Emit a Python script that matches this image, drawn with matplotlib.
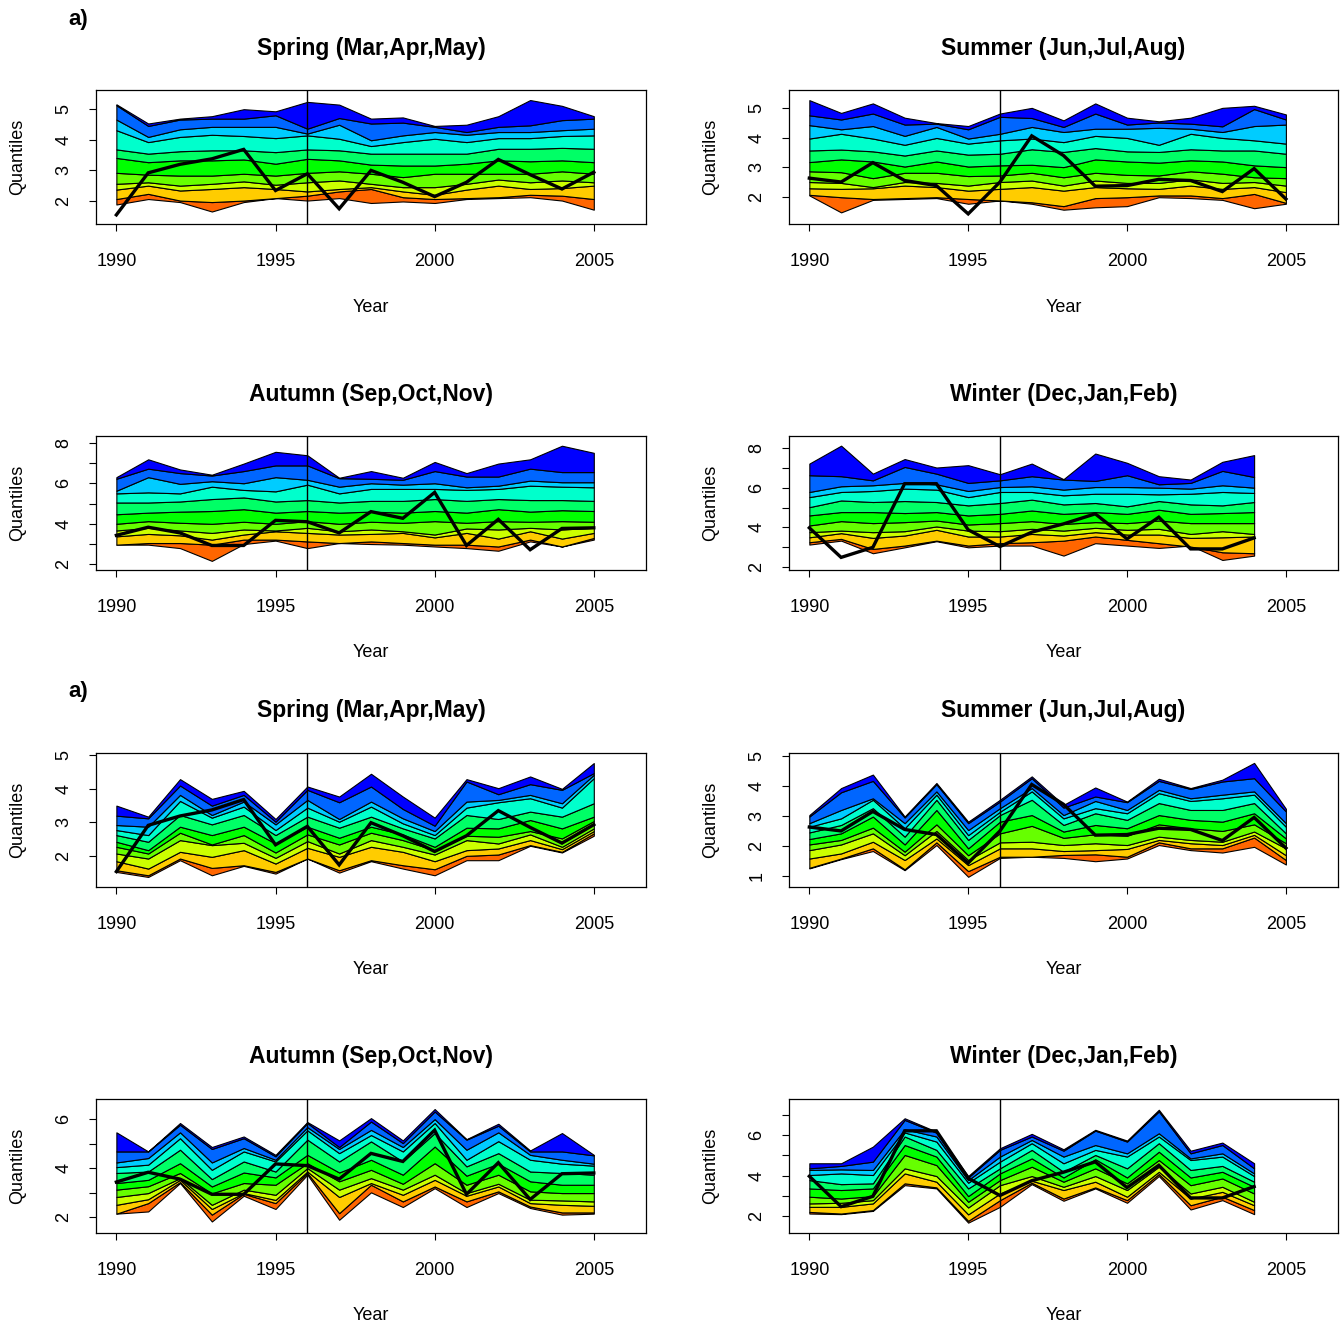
import matplotlib
matplotlib.use("Agg")
import matplotlib.pyplot as plt

plt.rcParams["font.family"] = ["Liberation Sans", "DejaVu Sans"]

years = list(range(1990, 2006))
years_w = list(range(1990, 2005))

# band colours, lowest quantile band first
band_colors = ["#FF6600", "#FFCC00", "#CCFF00", "#66FF00", "#00FF00",
               "#00FF66", "#00FFCC", "#00CCFF", "#0066FF", "#0000FF"]

# observed series per season
obs_spring = [1.53, 2.91, 3.19, 3.37, 3.68, 2.33, 2.88, 1.73, 2.99, 2.60, 2.13, 2.60, 3.35, 2.85, 2.38, 2.93]
obs_summer = [2.64, 2.51, 3.16, 2.56, 2.39, 1.44, 2.51, 4.06, 3.40, 2.37, 2.39, 2.60, 2.56, 2.19, 2.96, 1.94]
obs_autumn = [3.43, 3.83, 3.55, 2.93, 2.93, 4.17, 4.10, 3.55, 4.60, 4.27, 5.55, 2.93, 4.22, 2.72, 3.77, 3.80]
obs_winter = [3.97, 2.47, 2.98, 6.21, 6.21, 3.87, 3.02, 3.75, 4.17, 4.68, 3.41, 4.51, 2.90, 2.90, 3.46]

# quantile boundaries (lowest to highest), first set of runs
spring_a = [
    [1.87, 2.05, 1.95, 1.64, 1.95, 2.08, 2.00, 2.08, 1.92, 1.97, 1.92, 2.05, 2.08, 2.11, 2.00, 1.70],
    [2.05, 2.22, 2.00, 1.95, 2.00, 2.08, 2.16, 2.30, 2.38, 2.11, 2.05, 2.08, 2.11, 2.19, 2.16, 2.05],
    [2.36, 2.49, 2.33, 2.38, 2.44, 2.38, 2.30, 2.38, 2.44, 2.30, 2.19, 2.36, 2.49, 2.38, 2.41, 2.49],
    [2.55, 2.60, 2.49, 2.55, 2.63, 2.52, 2.60, 2.66, 2.55, 2.44, 2.44, 2.55, 2.69, 2.60, 2.66, 2.60],
    [2.91, 2.85, 2.82, 2.82, 2.88, 2.82, 2.91, 2.96, 2.88, 2.77, 2.88, 2.88, 2.88, 2.88, 2.96, 2.88],
    [3.40, 3.26, 3.32, 3.32, 3.35, 3.21, 3.37, 3.32, 3.18, 3.15, 3.15, 3.21, 3.32, 3.29, 3.32, 3.26],
    [3.68, 3.54, 3.62, 3.65, 3.65, 3.59, 3.68, 3.65, 3.54, 3.54, 3.54, 3.54, 3.70, 3.70, 3.73, 3.70],
    [4.31, 3.92, 4.09, 4.16, 4.12, 4.05, 4.14, 4.03, 3.79, 3.92, 4.03, 3.92, 4.05, 4.05, 4.12, 4.14],
    [4.66, 4.09, 4.34, 4.42, 4.42, 4.42, 4.20, 4.49, 3.98, 4.14, 4.25, 4.16, 4.25, 4.25, 4.31, 4.36],
    [5.13, 4.45, 4.66, 4.69, 4.69, 4.80, 4.36, 4.71, 4.53, 4.56, 4.42, 4.25, 4.42, 4.47, 4.64, 4.69],
    [5.16, 4.53, 4.69, 4.77, 5.00, 4.93, 5.24, 5.15, 4.69, 4.73, 4.45, 4.49, 4.77, 5.30, 5.11, 4.77],
]
summer_a = [
    [2.06, 1.49, 1.91, 1.94, 1.97, 1.78, 1.89, 1.78, 1.58, 1.66, 1.70, 2.00, 1.97, 1.91, 1.63, 1.78],
    [2.08, 2.00, 1.94, 1.97, 2.00, 1.94, 1.89, 1.83, 1.70, 1.97, 2.00, 2.06, 2.06, 1.97, 2.11, 1.81],
    [2.30, 2.28, 2.30, 2.39, 2.34, 2.22, 2.28, 2.34, 2.22, 2.34, 2.30, 2.28, 2.39, 2.28, 2.34, 2.17],
    [2.51, 2.48, 2.34, 2.51, 2.48, 2.39, 2.51, 2.56, 2.39, 2.56, 2.48, 2.48, 2.60, 2.48, 2.51, 2.39],
    [2.87, 2.84, 2.64, 2.82, 2.82, 2.71, 2.73, 2.82, 2.67, 2.82, 2.75, 2.73, 2.87, 2.79, 2.67, 2.64],
    [3.18, 3.27, 3.20, 3.03, 3.20, 3.03, 3.07, 3.09, 3.01, 3.27, 3.20, 3.16, 3.24, 3.20, 3.07, 3.01],
    [3.57, 3.60, 3.54, 3.40, 3.57, 3.43, 3.46, 3.61, 3.52, 3.65, 3.54, 3.52, 3.61, 3.57, 3.57, 3.46],
    [3.97, 4.13, 3.97, 3.76, 3.99, 3.80, 3.91, 3.97, 3.85, 4.06, 3.99, 3.76, 4.13, 3.99, 3.91, 3.80],
    [4.42, 4.28, 4.39, 4.06, 4.36, 3.97, 4.13, 4.36, 4.19, 4.30, 4.30, 4.33, 4.30, 4.19, 4.39, 4.44],
    [4.75, 4.61, 4.81, 4.44, 4.47, 4.28, 4.70, 4.66, 4.36, 4.81, 4.44, 4.51, 4.47, 4.38, 4.96, 4.61],
    [5.26, 4.83, 5.15, 4.67, 4.49, 4.39, 4.81, 5.00, 4.58, 5.15, 4.67, 4.55, 4.67, 5.00, 5.07, 4.78],
]
autumn_a = [
    [2.97, 2.97, 2.80, 2.17, 3.00, 3.17, 2.80, 3.05, 3.00, 2.97, 2.88, 2.80, 2.67, 3.13, 2.88, 3.22],
    [2.97, 3.05, 3.05, 2.97, 3.22, 3.22, 3.13, 3.05, 3.13, 3.05, 2.97, 2.97, 2.88, 3.22, 2.88, 3.30],
    [3.38, 3.50, 3.43, 3.22, 3.47, 3.63, 3.55, 3.47, 3.50, 3.55, 3.33, 3.55, 3.27, 3.63, 3.27, 3.55],
    [3.67, 3.80, 3.67, 3.55, 3.72, 3.67, 3.80, 3.63, 3.72, 3.63, 3.47, 3.77, 3.72, 3.80, 3.72, 3.80],
    [4.00, 4.13, 4.05, 4.00, 4.10, 4.00, 4.13, 4.00, 4.10, 4.05, 4.13, 4.05, 4.13, 4.10, 4.13, 4.10],
    [4.47, 4.55, 4.60, 4.63, 4.72, 4.55, 4.63, 4.55, 4.60, 4.55, 4.63, 4.55, 4.72, 4.60, 4.67, 4.63],
    [5.05, 5.05, 5.10, 5.22, 5.30, 5.10, 5.17, 5.05, 5.13, 5.13, 5.22, 5.13, 5.22, 5.17, 5.17, 5.13],
    [5.50, 5.55, 5.50, 5.83, 5.67, 5.60, 5.93, 5.50, 5.72, 5.72, 5.72, 5.67, 5.72, 5.88, 5.83, 5.80],
    [5.63, 6.30, 5.97, 6.10, 6.00, 6.30, 6.17, 5.83, 6.00, 5.93, 6.00, 5.80, 5.88, 6.13, 6.05, 6.05],
    [6.22, 6.72, 6.50, 6.38, 6.60, 6.88, 6.88, 6.25, 6.22, 6.17, 6.60, 6.33, 6.33, 6.72, 6.55, 6.55],
    [6.30, 7.18, 6.68, 6.42, 6.97, 7.55, 7.38, 6.27, 6.60, 6.27, 7.05, 6.50, 6.97, 7.18, 7.85, 7.50],
]
winter_a = [
    [3.12, 3.32, 2.68, 2.98, 3.29, 2.98, 3.07, 3.07, 2.56, 3.19, 3.07, 2.95, 3.07, 2.34, 2.56],
    [3.24, 3.41, 2.90, 3.07, 3.32, 3.07, 3.19, 3.24, 3.32, 3.53, 3.36, 3.19, 3.02, 2.73, 2.68],
    [3.49, 3.70, 3.46, 3.58, 3.87, 3.53, 3.53, 3.66, 3.58, 3.75, 3.63, 3.63, 3.46, 3.49, 3.53],
    [3.75, 3.83, 3.75, 3.80, 4.04, 3.83, 3.80, 3.92, 3.83, 3.97, 3.87, 3.92, 3.66, 3.80, 3.66],
    [4.09, 4.31, 4.21, 4.26, 4.34, 4.14, 4.21, 4.31, 4.17, 4.26, 4.21, 4.34, 4.21, 4.21, 4.21],
    [4.60, 4.77, 4.77, 4.72, 4.77, 4.60, 4.68, 4.85, 4.68, 4.77, 4.68, 4.89, 4.68, 4.72, 4.77],
    [5.02, 5.36, 5.28, 5.33, 5.28, 5.11, 5.23, 5.40, 5.16, 5.23, 5.06, 5.33, 5.16, 5.11, 5.28],
    [5.53, 5.79, 5.84, 5.96, 5.91, 5.53, 5.79, 5.79, 5.62, 5.70, 5.70, 5.67, 5.70, 5.79, 5.74],
    [5.79, 6.08, 6.13, 6.25, 6.18, 5.84, 6.04, 6.08, 5.91, 6.04, 6.04, 6.01, 5.96, 6.13, 6.01],
    [6.64, 6.59, 6.38, 7.06, 6.72, 6.25, 6.38, 6.59, 6.42, 6.35, 6.64, 6.18, 6.25, 6.86, 6.55],
    [7.23, 8.14, 6.72, 7.46, 7.03, 7.15, 6.69, 7.23, 6.44, 7.74, 7.27, 6.59, 6.42, 7.32, 7.66],
]

# second set of runs
spring_b = [
    [1.52, 1.37, 1.87, 1.42, 1.70, 1.47, 1.92, 1.50, 1.84, 1.62, 1.42, 1.87, 1.87, 2.30, 2.10, 2.60],
    [1.57, 1.42, 1.92, 1.64, 1.72, 1.52, 1.92, 1.57, 1.87, 1.72, 1.60, 2.00, 2.04, 2.32, 2.12, 2.67],
    [1.84, 1.62, 2.12, 1.97, 2.17, 1.77, 2.24, 1.97, 2.27, 2.12, 1.84, 2.17, 2.22, 2.47, 2.20, 2.74],
    [2.07, 1.92, 2.47, 2.32, 2.39, 1.94, 2.44, 2.07, 2.47, 2.27, 2.04, 2.47, 2.37, 2.64, 2.27, 2.82],
    [2.27, 2.07, 2.69, 2.34, 2.62, 2.10, 2.64, 2.34, 2.69, 2.47, 2.17, 2.60, 2.57, 2.74, 2.52, 3.04],
    [2.42, 2.17, 2.87, 2.62, 2.87, 2.37, 2.87, 2.54, 2.87, 2.64, 2.27, 2.84, 2.82, 3.07, 2.82, 3.17],
    [2.62, 2.42, 3.22, 2.94, 3.22, 2.62, 3.17, 2.84, 3.17, 2.82, 2.52, 3.22, 3.10, 3.32, 3.17, 3.57],
    [2.77, 2.62, 3.64, 3.14, 3.47, 2.77, 3.44, 3.02, 3.47, 2.97, 2.62, 3.44, 3.60, 3.72, 3.44, 4.32],
    [2.92, 2.87, 3.82, 3.22, 3.62, 2.94, 3.67, 3.10, 3.62, 3.12, 2.74, 3.62, 3.67, 3.82, 3.57, 4.42],
    [3.20, 3.12, 4.10, 3.50, 3.82, 3.02, 3.97, 3.60, 4.07, 3.40, 2.90, 4.22, 3.84, 4.14, 3.97, 4.47],
    [3.50, 3.17, 4.29, 3.70, 3.94, 3.10, 4.07, 3.77, 4.45, 3.77, 3.14, 4.29, 4.02, 4.37, 4.00, 4.77],
]
summer_b = [
    [1.26, 1.57, 1.84, 1.20, 2.04, 0.98, 1.61, 1.65, 1.61, 1.50, 1.59, 2.04, 1.87, 1.79, 1.98, 1.39],
    [1.28, 1.59, 1.93, 1.23, 2.13, 1.17, 1.65, 1.65, 1.71, 1.73, 1.65, 2.13, 1.93, 1.93, 2.29, 1.54],
    [1.59, 1.76, 2.15, 1.54, 2.26, 1.37, 1.93, 1.93, 1.84, 1.87, 1.91, 2.21, 2.10, 2.04, 2.38, 1.70],
    [1.87, 2.06, 2.43, 1.70, 2.51, 1.54, 2.13, 2.15, 2.04, 2.10, 2.04, 2.32, 2.21, 2.15, 2.49, 1.93],
    [2.06, 2.21, 2.62, 1.82, 2.73, 1.70, 2.43, 2.68, 2.28, 2.40, 2.35, 2.73, 2.60, 2.51, 2.73, 2.10],
    [2.24, 2.43, 2.99, 2.06, 3.21, 1.93, 2.82, 3.04, 2.49, 2.71, 2.60, 3.04, 2.88, 2.82, 3.10, 2.26],
    [2.46, 2.71, 3.27, 2.32, 3.55, 2.21, 3.04, 3.55, 2.71, 3.10, 2.88, 3.44, 3.21, 3.21, 3.44, 2.43],
    [2.65, 2.93, 3.55, 2.60, 3.72, 2.37, 3.15, 3.83, 2.93, 3.27, 3.10, 3.77, 3.51, 3.60, 3.72, 2.65],
    [2.77, 3.21, 3.60, 2.77, 3.83, 2.54, 3.27, 3.94, 3.04, 3.51, 3.21, 3.88, 3.60, 3.72, 3.83, 2.77],
    [2.99, 3.80, 4.18, 2.96, 4.07, 2.77, 3.49, 4.27, 3.29, 3.66, 3.47, 4.18, 3.91, 4.16, 4.27, 3.16],
    [3.04, 3.94, 4.39, 2.99, 4.11, 2.82, 3.55, 4.33, 3.38, 3.96, 3.49, 4.25, 3.94, 4.22, 4.78, 3.25],
]
autumn_b = [
    [2.14, 2.23, 3.39, 1.82, 2.87, 2.33, 3.73, 1.89, 3.01, 2.41, 3.18, 2.41, 2.98, 2.37, 2.10, 2.14],
    [2.14, 2.57, 3.43, 2.10, 2.95, 2.57, 3.80, 2.16, 3.32, 2.64, 3.25, 2.64, 3.05, 2.43, 2.19, 2.19],
    [2.50, 2.73, 3.52, 2.33, 2.98, 2.70, 3.86, 2.82, 3.39, 2.91, 3.52, 2.87, 3.25, 2.57, 2.50, 2.46],
    [2.82, 2.98, 3.59, 2.50, 3.12, 2.91, 4.00, 3.12, 3.59, 3.12, 3.73, 2.98, 3.36, 2.71, 2.68, 2.64],
    [3.12, 3.26, 3.80, 2.97, 3.39, 3.32, 4.20, 3.46, 3.93, 3.36, 4.20, 3.32, 3.73, 3.05, 2.98, 2.98],
    [3.39, 3.52, 4.20, 3.25, 3.82, 3.62, 4.54, 3.82, 4.34, 3.73, 4.88, 3.69, 4.18, 3.46, 3.32, 3.32],
    [3.80, 3.86, 4.75, 3.55, 4.27, 3.86, 5.16, 4.27, 5.09, 4.27, 5.43, 4.07, 4.61, 3.86, 3.80, 3.73],
    [4.04, 4.14, 5.22, 3.93, 4.68, 4.27, 5.54, 4.61, 5.35, 4.68, 5.84, 4.34, 5.10, 4.34, 4.18, 4.10],
    [4.23, 4.41, 5.46, 4.23, 4.82, 4.34, 5.67, 4.78, 5.56, 4.86, 6.00, 4.75, 5.46, 4.54, 4.34, 4.18],
    [4.68, 4.68, 5.77, 4.78, 5.22, 4.48, 5.84, 4.86, 5.90, 5.02, 6.31, 5.16, 5.73, 4.68, 4.68, 4.52],
    [5.46, 4.68, 5.84, 4.86, 5.29, 4.54, 5.88, 5.13, 6.04, 5.13, 6.41, 5.18, 5.81, 4.72, 5.43, 4.54],
]
winter_b = [
    [2.13, 2.10, 2.26, 3.53, 3.37, 1.68, 2.46, 3.58, 2.76, 3.37, 2.66, 3.98, 2.33, 2.79, 2.10],
    [2.21, 2.13, 2.30, 3.62, 3.42, 1.77, 2.79, 3.65, 2.87, 3.42, 2.79, 4.08, 2.54, 2.96, 2.30],
    [2.46, 2.46, 2.63, 4.11, 3.70, 2.09, 3.12, 3.75, 3.29, 3.70, 2.96, 4.19, 2.87, 3.20, 2.54],
    [2.63, 2.66, 2.79, 4.36, 3.98, 2.43, 3.53, 3.98, 3.45, 3.98, 3.29, 4.44, 3.12, 3.45, 2.71],
    [2.96, 2.87, 2.99, 5.02, 4.52, 2.71, 3.78, 4.44, 3.70, 4.36, 3.62, 4.77, 3.53, 3.86, 3.12],
    [3.37, 3.29, 3.37, 5.51, 4.94, 2.99, 4.11, 4.85, 3.91, 4.81, 3.91, 5.18, 3.91, 4.19, 3.45],
    [3.78, 3.58, 3.62, 5.93, 5.27, 3.37, 4.36, 5.27, 4.19, 5.02, 4.36, 5.60, 4.28, 4.48, 3.70],
    [4.03, 4.11, 4.03, 6.13, 5.68, 3.65, 4.69, 5.60, 4.61, 5.27, 4.94, 5.93, 4.77, 4.94, 3.98],
    [4.28, 4.31, 4.28, 6.29, 5.93, 3.78, 4.94, 5.76, 4.94, 5.51, 5.10, 6.09, 4.85, 5.10, 4.11],
    [4.36, 4.48, 4.69, 6.75, 6.12, 3.91, 5.27, 5.93, 5.23, 6.22, 5.68, 7.17, 5.10, 5.51, 4.36],
    [4.61, 4.61, 5.43, 6.83, 6.17, 3.98, 5.35, 6.06, 5.30, 6.26, 5.73, 7.25, 5.23, 5.63, 4.61],
]

titles = ["Spring (Mar,Apr,May)", "Summer (Jun,Jul,Aug)",
          "Autumn (Sep,Oct,Nov)", "Winter (Dec,Jan,Feb)"]

W, H = 1341, 1325
fig = plt.figure(figsize=(W / 100, H / 100), dpi=100)

col_x = [(96, 646), (789, 1338)]
row_y = [(90, 224), (436, 570), (753, 887), (1099, 1233)]


def add_panel(row, col, x, bands, obs, ylim, yticks, ylabels, title):
    x0, x1 = col_x[col]
    y0, y1 = row_y[row]
    ax = fig.add_axes([x0 / W, 1 - y1 / H, (x1 - x0) / W, (y1 - y0) / H])
    for i in range(10):
        ax.fill_between(x, bands[i], bands[i + 1], facecolor=band_colors[i],
                        edgecolor="black", linewidth=0.8)
    ax.plot(x, obs, color="black", lw=2.4, solid_joinstyle="miter")
    ax.axvline(1996, color="black", lw=1)
    ax.set_xlim(1989.36, 2006.64)
    ax.set_ylim(*ylim)
    ax.set_xticks([1990, 1995, 2000, 2005])
    ax.set_yticks(yticks)
    ax.set_yticklabels(ylabels, rotation=90, va="center")
    ax.tick_params(axis="x", length=5, width=0.8, pad=16, labelsize=13)
    ax.tick_params(axis="y", length=5, width=0.8, pad=12, labelsize=13)
    for s in ax.spines.values():
        s.set_linewidth(0.9)
    cx = (x0 + x1) / 2
    fig.text(cx / W, 1 - (y0 - 42) / H, title, ha="center", va="center",
             fontsize=16.5, fontweight="bold")
    fig.text(cx / W, 1 - (y1 + 83) / H, "Year", ha="center", va="center", fontsize=13)
    fig.text((x0 - 78) / W, 1 - ((y0 + y1) / 2) / H, "Quantiles", ha="center",
             va="center", rotation=90, fontsize=13)
    return ax


even = lambda lo, hi: [str(v) if v % 2 == 0 else "" for v in range(lo, hi + 1)]

add_panel(0, 0, years, spring_a, obs_spring, (1.23, 5.63), [2, 3, 4, 5], ["2", "3", "4", "5"], titles[0])
add_panel(0, 1, years, summer_a, obs_summer, (1.10, 5.60), [2, 3, 4, 5], ["2", "3", "4", "5"], titles[1])
add_panel(1, 0, years, autumn_a, obs_autumn, (1.72, 8.33), list(range(2, 9)), even(2, 8), titles[2])
add_panel(1, 1, years_w, winter_a, obs_winter, (1.83, 8.63), list(range(2, 9)), even(2, 8), titles[3])
add_panel(2, 0, years, spring_b, obs_spring, (1.07, 5.07), [2, 3, 4, 5], ["2", "3", "4", "5"], titles[0])
add_panel(2, 1, years, summer_b, obs_summer, (0.64, 5.11), [1, 2, 3, 4, 5], ["1", "2", "3", "4", "5"], titles[1])
add_panel(3, 0, years, autumn_b, obs_autumn, (1.35, 6.82), list(range(2, 7)), even(2, 6), titles[2])
add_panel(3, 1, years_w, winter_b, obs_winter, (1.17, 7.78), list(range(2, 8)), even(2, 7), titles[3])

fig.text(78 / W, 1 - 20 / H, "a)", ha="center", va="center", fontsize=16, fontweight="bold")
fig.text(78 / W, 1 - 692 / H, "a)", ha="center", va="center", fontsize=16, fontweight="bold")

fig.savefig("out.png", dpi=100)
